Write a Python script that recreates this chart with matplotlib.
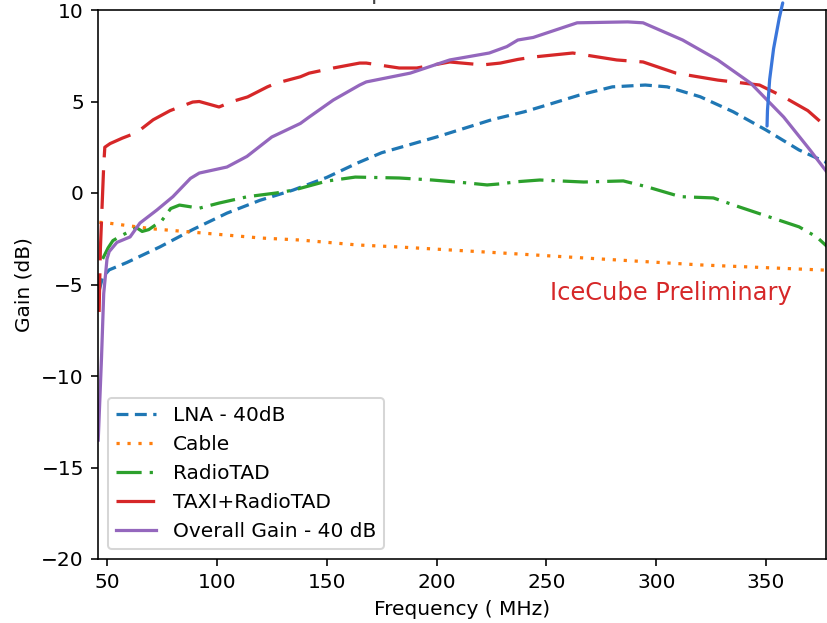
import matplotlib
matplotlib.use("Agg")
import matplotlib.pyplot as plt

# LNA - 40dB
lna_f = [46.5, 48, 51, 59, 74, 89, 104.6, 119.6, 134.7, 150, 164, 175, 200, 225,
         240, 250, 265, 280, 295, 305, 320, 335, 350, 365, 378]
lna_g = [-5.3, -4.6, -4.2, -3.8, -2.95, -2.0, -1.1, -0.4, 0.16, 0.85, 1.64, 2.2,
         3.06, 4.0, 4.44, 4.8, 5.35, 5.8, 5.9, 5.8, 5.26, 4.44, 3.44, 2.35, 1.64]

# Cable
cable_f = [46.5, 51, 70, 90, 120, 138, 164, 183, 230, 274, 320, 378]
cable_g = [-1.6, -1.65, -1.95, -2.15, -2.46, -2.57, -2.84, -2.95, -3.28, -3.6,
           -3.93, -4.22]

# RadioTAD
rtad_f = [48, 50.5, 52.7, 57, 63.5, 66, 69, 75, 79, 83, 92, 101, 114, 127, 135,
          150, 163, 183, 198, 214, 223, 229, 237, 247, 267, 285, 296, 311, 326,
          338, 353, 365, 373, 378]
rtad_g = [-3.6, -3.0, -2.6, -2.3, -1.9, -2.1, -2.0, -1.5, -0.85, -0.66, -0.83,
          -0.55, -0.2, 0.0, 0.16, 0.65, 0.87, 0.82, 0.71, 0.55, 0.44, 0.5, 0.62,
          0.71, 0.6, 0.66, 0.33, -0.2, -0.27, -0.77, -1.37, -1.85, -2.4, -2.95]

# TAXI+RadioTAD
taxi_f = [46.4, 47, 48.5, 49, 51.4, 57, 63.5, 71, 78.7, 89, 92, 98, 101, 107,
          114, 123, 127, 138, 142, 153, 165, 168, 183, 191, 206, 221, 229, 237,
          244, 262, 282, 294, 309, 328, 347, 358, 369, 378]
taxi_g = [-6.5, -3.0, 1.5, 2.5, 2.7, 3.0, 3.3, 4.0, 4.5, 4.97, 5.0, 4.8, 4.7,
          5.0, 5.25, 5.8, 6.0, 6.35, 6.55, 6.83, 7.1, 7.1, 6.83, 6.83, 7.16, 7.0,
          7.1, 7.3, 7.43, 7.65, 7.27, 7.16, 6.55, 6.17, 5.9, 5.25, 4.5, 3.55]

# Overall Gain - 40 dB
tot_f = [46, 47.5, 48.5, 50, 51, 54.5, 60.5, 65, 72.7, 80, 88, 92, 104.6, 113.7,
         125, 138, 142, 153, 165, 168, 188, 206, 224, 232, 237, 244, 264, 287,
         294, 312, 328, 343, 358, 370, 378]
tot_g = [-13.5, -9.0, -5.5, -3.6, -3.2, -2.7, -2.4, -1.64, -0.93, -0.2, 0.8,
         1.09, 1.42, 2.0, 3.06, 3.8, 4.15, 5.08, 5.9, 6.07, 6.55, 7.27, 7.65,
         8.0, 8.36, 8.5, 9.3, 9.35, 9.3, 8.36, 7.27, 6.0, 4.15, 2.35, 1.09]

W, H = 827, 623
fig = plt.figure(figsize=(W / 145, H / 145), dpi=145)
ax = fig.add_axes([98 / W, 64 / H, (826 - 98) / W, 549 / H])

lw = 1.6
ax.plot(lna_f, lna_g, color="C0", lw=lw, linestyle=(0, (3.7, 2.0)),
        label="LNA - 40dB")
ax.plot(cable_f, cable_g, color="C1", lw=lw, linestyle=(0, (1, 2.4)),
        label="Cable")
ax.plot(rtad_f, rtad_g, color="C2", lw=lw, linestyle=(0, (7.8, 2.5, 1, 2.5)),
        label="RadioTAD")
ax.plot(taxi_f, taxi_g, color="C3", lw=lw, linestyle=(0, (12, 4)),
        label="TAXI+RadioTAD")
ax.plot(tot_f, tot_g, color="C4", lw=lw, linestyle="-",
        label="Overall Gain - 40 dB")

ax.set_xlim(45.9, 45.9 + (826 - 98) / 2.197)
ax.set_ylim(-20, 10)
ax.set_xticks([50, 100, 150, 200, 250, 300, 350])
ax.set_yticks([-20, -15, -10, -5, 0, 5, 10])
ax.set_xlabel("Frequency ( MHz)")
ax.set_ylabel("Gain (dB)")
ax.legend(loc="lower left")

ax.text(306.7, -5.45, "IceCube Preliminary", color="#d62728", fontsize=12,
        ha="center", va="center")

ax.annotate("", xy=(350.4, 3.44), xytext=(358.0, 10.6),
            arrowprops=dict(arrowstyle="-", color="#3a76db", lw=1.6,
                            connectionstyle="arc3,rad=0.06"),
            annotation_clip=False)

# title of the original figure, mostly cut off by the crop
fig.text(0.557, 1 + 0.5 / H,
         "Gain of the components of the RadioTAD chain",
         ha="center", va="baseline", fontsize=12, color="#444444")

fig.savefig("out.png", dpi=145)
